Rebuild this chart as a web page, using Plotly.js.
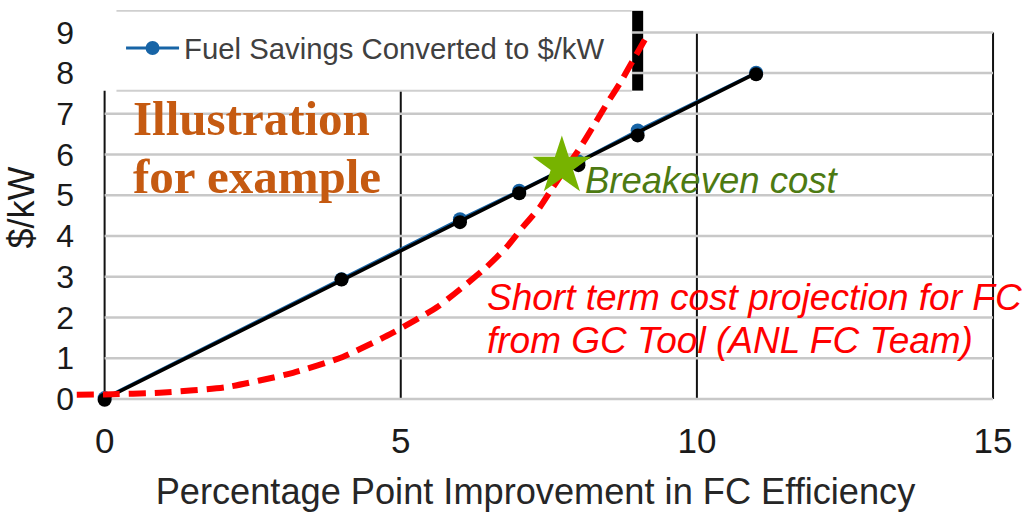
<!DOCTYPE html>
<html><head><meta charset="utf-8">
<script src="https://cdn.plot.ly/plotly-3.0.1.min.js"></script>
<style>html,body{margin:0;padding:0;background:#fff;}#chart{width:1023px;height:513px;}</style>
</head><body><div id="chart"></div>
<script>
// ---- data ----
const xTicks = [0, 5, 10, 15];
const yTicks = [0, 1, 2, 3, 4, 5, 6, 7, 8, 9];

const fuelX = [0, 4, 6, 7, 8, 9, 11];
const fuelSavings = [0.02, 2.94, 4.41, 5.11, 5.83, 6.59, 8.01];

const trendX = [0, 11];
const trendY = [0, 8.0];
const pointsY = [-0.02, 2.93, 4.34, 5.05, 5.74, 6.47, 7.97];

const costX = [-0.47, 0, 0.93, 2.06, 3.18, 4.02, 4.86, 5.61, 6.05, 6.45, 6.79, 7.06, 7.35, 7.57, 7.80, 8.02, 8.24, 8.48, 8.70, 8.92, 9.16];
const costY = [0.10, 0.11, 0.15, 0.29, 0.64, 1.03, 1.62, 2.25, 2.75, 3.24, 3.73, 4.22, 4.71, 5.20, 5.69, 6.15, 6.67, 7.25, 7.75, 8.31, 8.92];

const breakevenX = [7.72];
const breakevenY = [5.71];

const FONT = 'Liberation Sans, Arial, sans-serif';

const traces = [
  {x: fuelX, y: fuelSavings, type: 'scatter', mode: 'lines+markers', name: 'Fuel Savings Converted to $/kW',
   line: {color: '#1764a6', width: 3}, marker: {color: '#1764a6', size: 14}, cliponaxis: false},
  {x: trendX, y: trendY, type: 'scatter', mode: 'lines', showlegend: false,
   line: {color: '#000', width: 3.5}},
  {x: fuelX, y: pointsY, type: 'scatter', mode: 'markers', showlegend: false,
   marker: {color: '#000', size: 14}, cliponaxis: false},
  {x: costX, y: costY, type: 'scatter', mode: 'lines', showlegend: false,
   line: {color: '#ff0000', width: 6, dash: '17px,9px', shape: 'spline', smoothing: 0.6}},
  {x: breakevenX, y: breakevenY, type: 'scatter', mode: 'markers', showlegend: false,
   marker: {symbol: 'star', color: '#77b300', size: 44, line: {width: 0}}}
];

const shapes = [];
xTicks.forEach(v => shapes.push({type: 'line', layer: 'below', xref: 'x', yref: 'y',
  x0: v, x1: v, y0: yTicks[0], y1: yTicks[yTicks.length - 1], line: {color: '#111', width: 2}}));
shapes.push({type: 'line', layer: 'below', xref: 'x', yref: 'y', x0: 9, x1: 9, y0: 7.57, y1: 9.53,
  line: {color: '#000', width: 11}});
yTicks.forEach(v => shapes.push({type: 'line', layer: 'below', xref: 'x', yref: 'y',
  x0: xTicks[0], x1: xTicks[xTicks.length - 1], y0: v, y1: v, line: {color: '#c8c8c8', width: 2.5}}));
shapes.push({type: 'rect', layer: 'below', xref: 'x', yref: 'y', x0: -0.1, x1: 8.9, y0: 7.57, y1: 9.6,
  fillcolor: '#fff', line: {width: 0}});
[7.57, 9.53].forEach(v => shapes.push({type: 'line', layer: 'below', xref: 'x', yref: 'y',
  x0: 0.2, x1: 8.9, y0: v, y1: v, line: {color: '#cfcfcf', width: 2}}));

const annotations = [
  {text: '<b>Illustration</b>', x: 0.44, y: 6.88, xref: 'x', yref: 'y', xanchor: 'left', yanchor: 'middle', showarrow: false,
   font: {family: 'Liberation Serif, Times New Roman, serif', size: 49, color: '#c55a11'}},
  {text: '<b>for example</b>', x: 0.44, y: 5.46, xref: 'x', yref: 'y', xanchor: 'left', yanchor: 'middle', showarrow: false,
   font: {family: 'Liberation Serif, Times New Roman, serif', size: 49, color: '#c55a11'}},
  {text: '<i>Breakeven cost</i>', x: 8.07, y: 5.37, xref: 'x', yref: 'y', xanchor: 'left', yanchor: 'middle', showarrow: false,
   font: {family: FONT, size: 36.5, color: '#4d7a12'}},
  {text: '<i>Short term cost projection for FC</i>', x: 6.42, y: 2.5, xref: 'x', yref: 'y', xanchor: 'left', yanchor: 'middle', showarrow: false,
   font: {family: FONT, size: 37, color: '#ff0000'}},
  {text: '<i>from GC Tool (ANL FC Team)</i>', x: 6.42, y: 1.43, xref: 'x', yref: 'y', xanchor: 'left', yanchor: 'middle', showarrow: false,
   font: {family: FONT, size: 37, color: '#ff0000'}}
];

const layout = {
  width: 1023, height: 513,
  margin: {l: 75.4, r: 27, t: 9.5, b: 107.9},
  paper_bgcolor: '#fff', plot_bgcolor: '#fff',
  font: {family: FONT, color: '#1a1a1a'},
  xaxis: {range: [-0.5, 15.05], tickvals: xTicks, showgrid: false, zeroline: false, showline: false, ticks: '',
    tickfont: {size: 35, color: '#1a1a1a'}, ticklabelstandoff: 12,
    title: {text: 'Percentage Point Improvement in FC Efficiency', font: {size: 36.2, color: '#262626'}, standoff: 19}},
  yaxis: {range: [-0.15, 9.55], tickvals: yTicks, showgrid: false, zeroline: false, showline: false, ticks: '',
    tickfont: {size: 32, color: '#1a1a1a'},
    title: {text: '$/kW', font: {size: 36, color: '#1a1a1a'}, standoff: 10}},
  showlegend: true,
  legend: {x: 0.05, y: 0.9025, xanchor: 'left', yanchor: 'middle', bgcolor: 'rgba(0,0,0,0)', borderwidth: 0,
    itemwidth: 53, font: {size: 29.3, color: '#404040'}},
  shapes: shapes,
  annotations: annotations
};

Plotly.newPlot('chart', traces, layout, {displayModeBar: false, staticPlot: true});
</script>
</body></html>
